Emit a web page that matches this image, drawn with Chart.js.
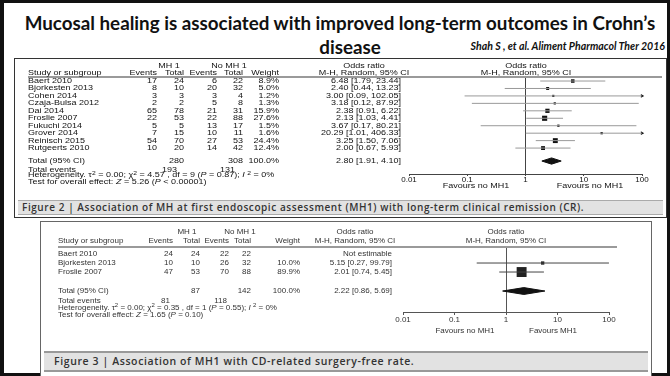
<!DOCTYPE html>
<html>
<head>
<meta charset="utf-8">
<script src="https://cdn.jsdelivr.net/npm/chart.js@4.4.1/dist/chart.umd.min.js"></script>
<style>
	body { margin: 0; background: #fff; }
	#slide { position: relative; width: 670px; height: 376px; overflow: hidden; background: #fff; }
	#frame { position: absolute; left: 0; top: 0; width: 663px; height: 370px; border: 3px solid #111; border-left-width: 4px; }
	.t { position: absolute; white-space: nowrap; line-height: 1; }
	.t sup { font-size: 0.75em; line-height: 0; vertical-align: 0.45em; }
	.title { font-family: Lato, "Open Sans", sans-serif; font-weight: 700; color: #111; }
	.panel { position: absolute; box-sizing: border-box; background: #fff; }
	.cap { position: absolute; box-sizing: border-box; background: #e2e2e2; }
	.capText { font-family: "Open Sans", sans-serif; font-weight: 600; color: #333; }
	.tbl { font-family: "Liberation Sans", Arial, sans-serif; }
	.hline { position: absolute; background: #9a9a9a; }
	canvas { position: absolute; }
</style>
</head>
<body>
<div id="slide">
	<div id="frame"></div>
	<div class="t title" style="left:340px;top:23px;font-size:18.8px;transform:translate(-50%,-50%)">Mucosal healing is associated with improved long-term outcomes in Crohn’s</div>
	<div class="t title" style="left:350px;top:47px;font-size:18.8px;transform:translate(-50%,-50%)">disease</div>
	<div class="t title" style="left:665px;top:46px;font-size:12px;font-style:italic;transform-origin:100% 50%;transform:translate(-100%,-50%) scaleX(0.88)">Shah S , et al. Aliment Pharmacol Ther 2016</div>

	<div class="panel" style="left:14px;top:58px;width:653px;height:160px;border:1px solid #333"></div>
	<div class="cap" style="left:18px;top:200px;width:645px;height:15px;border-top:1px solid #aaa;border-bottom:1px solid #aaa"></div>
	<div class="t capText" style="left:22px;top:207px;font-size:10px;letter-spacing:0.57px;transform:translate(0,-50%)">Figure 2 | Association of MH at first endoscopic assessment (MH1) with long-term clinical remission (CR).</div>

	<div class="panel" style="left:40px;top:221px;width:612px;height:170px;border:1px solid #666"></div>
	<div class="cap" style="left:44px;top:351px;width:604px;height:21px;border-top:2px solid #999;border-bottom:2px solid #999"></div>
	<div class="t capText" style="left:54px;top:361px;font-size:10.5px;letter-spacing:0.6px;transform:translate(0,-50%)">Figure 3 | Association of MH1 with CD-related surgery-free rate.</div>
</div>

<script>
// ---- Figure 2 data (MH1 vs long-term clinical remission)
const fig2Studies = ["Baert 2010", "Bjorkesten 2013", "Cohen 2014", "Czaja-Bulsa 2012", "Dai 2014", "Froslie 2007", "Fukuchi 2014", "Grover 2014", "Reinisch 2015", "Rutgeerts 2010"];
const fig2MhEvents = [17, 8, 3, 2, 65, 22, 5, 7, 54, 10];
const fig2MhTotal = [24, 10, 3, 2, 78, 53, 5, 15, 70, 20];
const fig2NoEvents = [6, 20, 3, 5, 21, 22, 13, 10, 27, 14];
const fig2NoTotal = [22, 32, 4, 8, 31, 88, 17, 11, 53, 42];
const fig2Weight = [8.9, 5.0, 1.2, 1.3, 15.9, 27.6, 1.5, 1.6, 24.4, 12.4];
const fig2OddsRatio = [6.48, 2.40, 3.00, 3.18, 2.38, 2.13, 3.67, 20.29, 3.25, 2.00];
const fig2Lower = [1.79, 0.44, 0.09, 0.12, 0.91, 1.03, 0.17, 1.01, 1.50, 0.67];
const fig2Upper = [23.44, 13.23, 102.05, 87.92, 6.22, 4.41, 80.21, 406.33, 7.06, 5.93];
const fig2TotalN = [280, 308];
const fig2TotalEvents = [193, 131];
const fig2Pooled = [2.80, 1.91, 4.10];
const fig2Heterogeneity = "Heterogeneity. τ<sup>2</sup> = 0.00; χ<sup>2</sup> = 4.57 , df = 9 (<i>P</i> = 0.87); <i>I</i> <sup>2</sup> = 0%";
const fig2Overall = "Test for overall effect: <i>Z</i> = 5.26 (<i>P</i> &lt; 0.00001)";
const fig2Favours = ["Favours no MH1", "Favours no MH1"];

// ---- Figure 3 data (MH1 vs CD-related surgery-free rate)
const fig3Studies = ["Baert 2010", "Bjorkesten 2013", "Froslie 2007"];
const fig3MhEvents = [24, 10, 47];
const fig3MhTotal = [24, 10, 53];
const fig3NoEvents = [22, 26, 70];
const fig3NoTotal = [22, 32, 88];
const fig3Weight = [null, 10.0, 89.9];
const fig3OddsRatio = [null, 5.15, 2.01];
const fig3Lower = [null, 0.27, 0.74];
const fig3Upper = [null, 99.79, 5.45];
const fig3TotalN = [87, 142];
const fig3TotalEvents = [81, 118];
const fig3Pooled = [2.22, 0.86, 5.69];
const fig3Heterogeneity = "Heterogeneity. τ<sup>2</sup> = 0.00; χ<sup>2</sup> = 0.35 , df = 1 (<i>P</i> = 0.55); <i>I</i> <sup>2</sup> = 0%";
const fig3Overall = "Test for overall effect: <i>Z</i> = 1.65 (<i>P</i> = 0.10)";
const fig3Favours = ["Favours no MH1", "Favours MH1"];

// Shared axis ticks of the odds-ratio scale
const axisTicks = [0.01, 0.1, 1, 10, 100];

const slide = document.getElementById("slide");

// Place a piece of text; y is the vertical centre, sx stretches it sideways
function addText(html, x, y, align, css, sx) {
	const d = document.createElement("div");
	d.className = "t tbl";
	d.innerHTML = html;
	d.style.left = x + "px";
	d.style.top = y + "px";
	const tx = align === "right" ? "-100%" : align === "center" ? "-50%" : "0";
	d.style.transformOrigin = (align === "right" ? "100%" : align === "center" ? "50%" : "0") + " 50%";
	d.style.transform = "translate(" + tx + ",-50%) scaleX(" + (sx || 1) + ")";
	Object.assign(d.style, css);
	slide.appendChild(d);
}

function ciText(or, lo, hi) {
	if (or === null) return "Not estimable";
	return or.toFixed(2) + " [" + lo.toFixed(2) + ", " + hi.toFixed(2) + "]";
}

function drawForest(fig, L) {
	const canvas = document.createElement("canvas");
	canvas.width = L.width;
	canvas.height = L.height;
	canvas.style.left = L.left + "px";
	canvas.style.top = L.top + "px";
	slide.appendChild(canvas);

	const datasets = [];
	// Confidence interval whiskers
	fig.studies.forEach((s, i) => {
		if (fig.or[i] === null) return;
		datasets.push({
			data: [{ x: fig.lo[i], y: i }, { x: fig.hi[i], y: i }],
			showLine: true,
			borderColor: L.whisker,
			borderWidth: 1,
			pointRadius: 0,
		});
	});
	// Arrow heads where the interval runs off the axis
	datasets.push({
		data: fig.studies.map((s, i) => (fig.hi[i] > 100 ? { x: 100, y: i } : null)).filter((p) => p),
		pointStyle: "triangle",
		rotation: 90,
		pointRadius: 2.2,
		backgroundColor: "#111",
		borderWidth: 0,
		clip: false,
	});
	// Weighted squares
	datasets.push({
		data: fig.studies.map((s, i) => ({ x: fig.or[i], y: i })).filter((p) => p.x !== null),
		pointStyle: "rect",
		pointRadius: fig.weight.filter((w) => w !== null).map((w) => L.sqA + L.sqB * Math.sqrt(w)),
		backgroundColor: L.square,
		borderWidth: 0,
	});
	// Pooled diamond
	const t = L.totalRow;
	datasets.push({
		data: [
			{ x: fig.pooled[1], y: t },
			{ x: fig.pooled[0], y: t - L.diamondH },
			{ x: fig.pooled[2], y: t },
			{ x: fig.pooled[0], y: t + L.diamondH },
			{ x: fig.pooled[1], y: t },
		],
		showLine: true,
		fill: "shape",
		backgroundColor: "#111",
		borderColor: "#111",
		borderWidth: 1,
		pointRadius: 0,
		tension: 0,
	});

	let placed = false;
	const tablePlugin = {
		id: "tableText",
		afterRender(chart) {
			if (placed) return;
			placed = true;
			const ys = (v) => L.top + chart.scales.y.getPixelForValue(v);
			const xs = (v) => L.left + chart.scales.x.getPixelForValue(v);
			const C = L.cols;
			const css = { fontSize: L.font + "px", color: L.text };
			const k = L.stretch;
			const put = (html, x, y, align) => addText(html, x, y, align, css, k);
			const top = L.top + chart.chartArea.top;

			// header rule
			const hl = document.createElement("div");
			hl.className = "hline";
			Object.assign(hl.style, { left: C.name + "px", top: top - 1 + "px", width: L.ruleEnd - C.name + "px", height: L.ruleW + "px" });
			slide.appendChild(hl);

			const h1 = top + L.head1, h2 = top + L.head2;
			put("MH 1", C.mh, h1, "center");
			put("No MH 1", C.no, h1, "center");
			put("Odds ratio", C.orC, h1, "center");
			put("Odds ratio", xs(1), h1, "center");
			put("Study or subgroup", C.name, h2, "left");
			put("Events", C.ev1, h2, "right");
			put("Total", C.tot1, h2, "right");
			put("Events", C.ev2, h2, "right");
			put("Total", C.tot2, h2, "right");
			put("Weight", C.wt, h2, "right");
			put("M-H, Random, 95% CI", C.orC, h2, "center");
			put("M-H, Random, 95% CI", xs(1), h2, "center");

			fig.studies.forEach((s, i) => {
				const y = ys(i);
				put(s, C.name, y, "left");
				put(fig.mhEv[i], C.ev1, y, "right");
				put(fig.mhTot[i], C.tot1, y, "right");
				put(fig.noEv[i], C.ev2, y, "right");
				put(fig.noTot[i], C.tot2, y, "right");
				if (fig.weight[i] !== null) put(fig.weight[i].toFixed(1) + "%", C.wt, y, "right");
				put(ciText(fig.or[i], fig.lo[i], fig.hi[i]), C.or, y, "right");
			});

			let y = ys(L.totalRow);
			put("Total (95% CI)", C.name, y, "left");
			put(fig.totalN[0], C.tot1, y, "right");
			put(fig.totalN[1], C.tot2, y, "right");
			put("100.0%", C.wt, y, "right");
			put(ciText(fig.pooled[0], fig.pooled[1], fig.pooled[2]), C.or, y, "right");

			y = ys(L.eventsRow);
			put("Total events", C.name, y, "left");
			put(fig.totalEv[0], C.evT1, y, "right");
			put(fig.totalEv[1], C.evT2, y, "right");
			put(fig.het, C.name, ys(L.hetRow), "left");
			put(fig.overall, C.name, ys(L.testRow), "left");

			put(fig.favours[0], L.favL, L.favY, "center");
			put(fig.favours[1], L.favR, L.favY, "center");
		},
	};

	new Chart(canvas, {
		type: "scatter",
		data: { datasets: datasets },
		options: {
			responsive: false,
			animation: false,
			events: [],
			layout: { padding: L.padding },
			plugins: { legend: { display: false }, tooltip: { enabled: false } },
			scales: {
				x: {
					type: "logarithmic",
					min: 0.01,
					max: 100,
					afterBuildTicks: (scale) => {
						scale.ticks = axisTicks.map((v) => ({ value: v }));
					},
					afterFit: (scale) => {
						scale.height = 12;
					},
					ticks: {
						callback: (v) => String(v),
						font: { family: "Liberation Sans", size: L.tickFont },
						color: L.text,
						padding: L.tickPad,
						maxRotation: 0,
						autoSkip: false,
					},
					grid: {
						drawOnChartArea: true,
						color: (c) => (c.tick && c.tick.value === 1 ? L.axis : "rgba(0,0,0,0)"),
						tickColor: L.axis,
						tickLength: L.tickLen,
						lineWidth: 1,
					},
					border: { display: true, color: L.axis, width: 1 },
				},
				y: { display: false, reverse: true, min: L.rowMin, max: L.rowMax },
			},
		},
		plugins: [tablePlugin],
	});
}

drawForest(
	{
		studies: fig2Studies, mhEv: fig2MhEvents, mhTot: fig2MhTotal, noEv: fig2NoEvents, noTot: fig2NoTotal,
		weight: fig2Weight, or: fig2OddsRatio, lo: fig2Lower, hi: fig2Upper,
		totalN: fig2TotalN, totalEv: fig2TotalEvents, pooled: fig2Pooled,
		het: fig2Heterogeneity, overall: fig2Overall, favours: fig2Favours,
	},
	{
		left: 14, top: 58, width: 653, height: 140,
		padding: { left: 395, right: 25, top: 19, bottom: 12 },
		rowMin: -0.54, rowMax: 12.48, totalRow: 10.74, eventsRow: 11.88, hetRow: 12.68, testRow: 13.49,
		head1: -11, head2: -4, ruleEnd: 662, ruleW: 2,
		cols: { name: 28, ev1: 157, tot1: 184, ev2: 217, tot2: 243, wt: 279, or: 401, mh: 169, no: 229, orC: 364, evT1: 177, evT2: 235 },
		favL: 476, favR: 590, favY: 186,
		font: 7.5, stretch: 1.2, tickFont: 8, tickLen: 2, tickPad: -1,
		text: "#111", axis: "#444", whisker: "#999", square: "#111",
		sqA: 1, sqB: 0.5, diamondH: 0.42,
	}
);

drawForest(
	{
		studies: fig3Studies, mhEv: fig3MhEvents, mhTot: fig3MhTotal, noEv: fig3NoEvents, noTot: fig3NoTotal,
		weight: fig3Weight, or: fig3OddsRatio, lo: fig3Lower, hi: fig3Upper,
		totalN: fig3TotalN, totalEv: fig3TotalEvents, pooled: fig3Pooled,
		het: fig3Heterogeneity, overall: fig3Overall, favours: fig3Favours,
	},
	{
		left: 40, top: 221, width: 612, height: 110,
		padding: { left: 363, right: 43, top: 26, bottom: 7 },
		rowMin: -0.78, rowMax: 6.44, totalRow: 4.11, eventsRow: 5.22, hetRow: 6.0, testRow: 6.78,
		head1: -15, head2: -6, ruleEnd: 617, ruleW: 1.5,
		cols: { name: 58, ev1: 173, tot1: 200, ev2: 229, tot2: 251, wt: 300, or: 392, mh: 187, no: 240, orC: 355, evT1: 170, evT2: 227 },
		favL: 465, favR: 553, favY: 331,
		font: 8, stretch: 1, tickFont: 8, tickLen: 3, tickPad: 0,
		text: "#333", axis: "#555", whisker: "#444", square: "#222",
		sqA: 0, sqB: 0.74, diamondH: 0.38,
	}
);
</script>
</body>
</html>
